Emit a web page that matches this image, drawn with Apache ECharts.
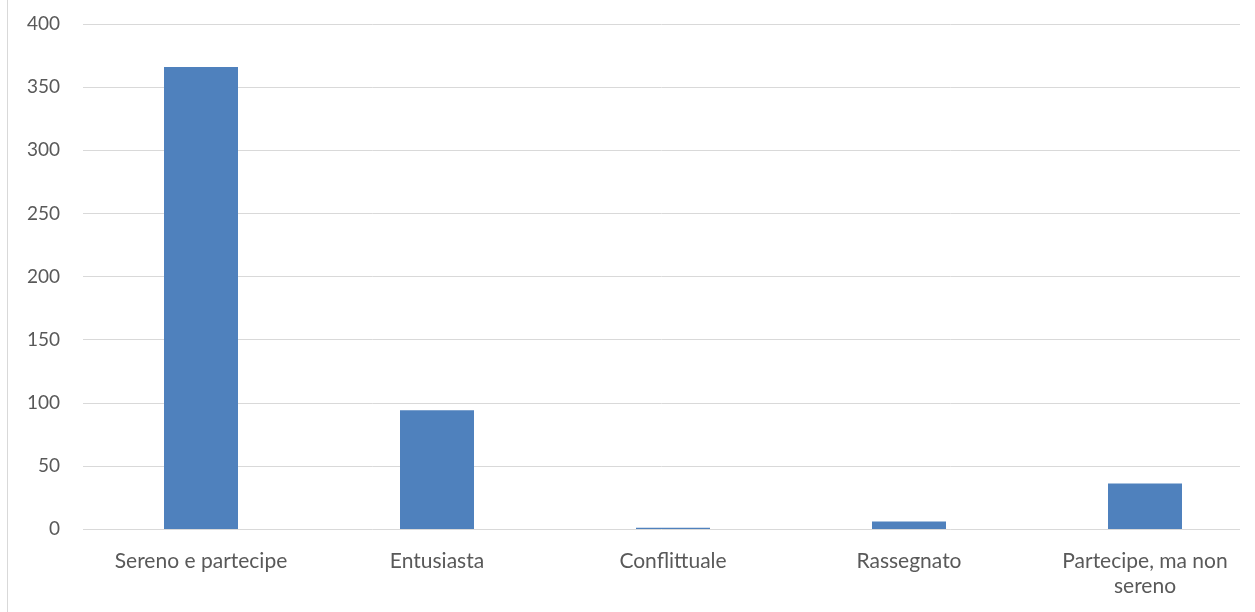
<!DOCTYPE html>
<html>
<head>
<meta charset="utf-8">
<script src="https://cdn.jsdelivr.net/npm/echarts@6/dist/echarts.min.js"></script>
<style>
  html, body { margin: 0; padding: 0; background: #fff; }
  #chart { width: 1255px; height: 612px; }
</style>
</head>
<body>
<div id="chart"></div>
<script>
// categorie e valori
var categories = ['Sereno e partecipe', 'Entusiasta', 'Conflittuale', 'Rassegnato', 'Partecipe, ma non sereno']
var values = [366, 94, 1, 6, 36]
var yTicks = { min: 0, max: 400, interval: 50 }

var font = 'Lato'
var chart = echarts.init(document.getElementById('chart'))
chart.setOption({
    animation: false,
    graphic: [{
        type: 'line',
        shape: { x1: 7.5, y1: 0, x2: 7.5, y2: 612 },
        style: { stroke: '#d9d9d9', lineWidth: 1 }
    }],
    // grid 0: griglia e asse y; grid 1: categorie, con i centri sui bordi (boundaryGap false)
    grid: [
        { left: 83, right: 15, top: 24, bottom: 83 },
        { left: 201, right: 110, top: 24, bottom: 83 }
    ],
    xAxis: [{
        type: 'value',
        gridIndex: 0,
        show: false
    }, {
        type: 'category',
        gridIndex: 1,
        data: categories,
        boundaryGap: false,
        axisTick: { show: false },
        axisLine: { show: false },
        axisLabel: {
            color: '#595959',
            fontFamily: font,
            fontSize: 21,
            margin: 20,
            lineHeight: 25,
            interval: 0,
            formatter: function (v) {
                return v === 'Partecipe, ma non sereno' ? 'Partecipe, ma non\nsereno' : v
            }
        }
    }],
    yAxis: [{
        type: 'value',
        gridIndex: 0,
        min: yTicks.min,
        max: yTicks.max,
        interval: yTicks.interval,
        axisLine: { show: false },
        axisTick: { show: false },
        splitLine: { lineStyle: { color: '#d9d9d9', width: 1 } },
        axisLabel: { color: '#595959', fontFamily: font, fontSize: 19, margin: 23 }
    }, {
        type: 'value',
        gridIndex: 1,
        min: yTicks.min,
        max: yTicks.max,
        interval: yTicks.interval,
        show: false,
        splitLine: { show: false }
    }],
    series: [{
        type: 'bar',
        xAxisIndex: 1,
        yAxisIndex: 1,
        data: values,
        barWidth: 74,
        clip: false,
        itemStyle: { color: '#4f81bd' }
    }]
})
</script>
</body>
</html>
